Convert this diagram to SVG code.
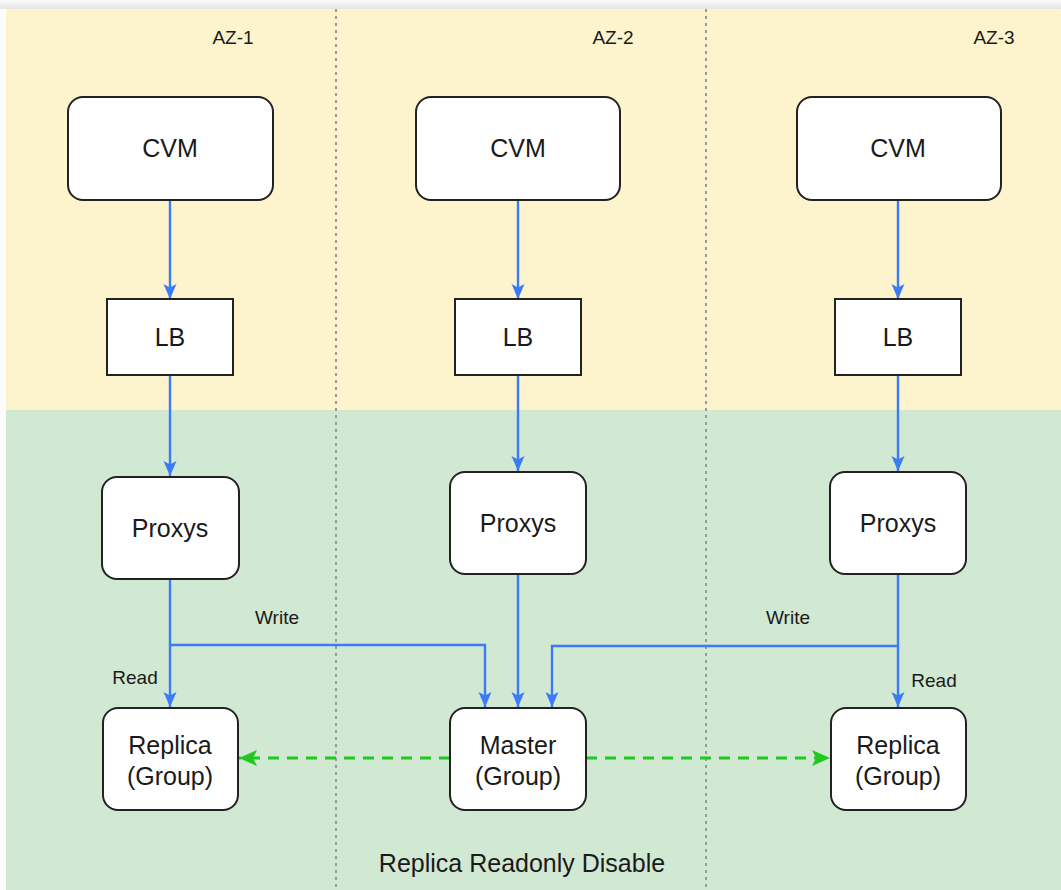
<svg xmlns="http://www.w3.org/2000/svg" width="1061" height="890" viewBox="0 0 1061 890">
<defs>
<linearGradient id="topbar" x1="0" y1="0" x2="0" y2="1">
<stop offset="0" stop-color="#fbfbfb"/>
<stop offset="1" stop-color="#e4e4e4"/>
</linearGradient>
<marker id="blueArrow" markerUnits="userSpaceOnUse" markerWidth="18" markerHeight="18" viewBox="0 0 18 18" refX="16" refY="9" orient="auto">
<path d="M1,2.5 L16,9 L1,15.5 L4.5,9 Z" fill="#3a7bf7"/>
</marker>
<marker id="greenArrow" markerUnits="userSpaceOnUse" markerWidth="22" markerHeight="22" viewBox="0 0 22 22" refX="20" refY="11" orient="auto">
<path d="M2,3 L20,11 L2,19 L6,11 Z" fill="#20c820"/>
</marker>
<style>
.box{fill:#ffffff;stroke:#222222;stroke-width:2}
.lbl{font-family:"Liberation Sans",Arial,sans-serif;font-size:25px;fill:#1a1a1a;text-anchor:middle}
.small{font-family:"Liberation Sans",Arial,sans-serif;font-size:19px;fill:#1a1a1a;text-anchor:middle}
.az{font-family:"Liberation Sans",Arial,sans-serif;font-size:19px;fill:#1a1a1a;text-anchor:middle}
.blue{fill:none;stroke:#3a7bf7;stroke-width:2.4;marker-end:url(#blueArrow)}
.green{fill:none;stroke:#20c820;stroke-width:3;stroke-dasharray:11 8;marker-end:url(#greenArrow)}
.divider{stroke:#9a9a9a;stroke-width:2;stroke-dasharray:3 4}
</style>
</defs>
<g id="background">
<rect x="0" y="0" width="1061" height="890" fill="#fdfdfd"/>
<rect x="0" y="0" width="1061" height="9" fill="url(#topbar)"/>
<rect x="6" y="9" width="1055" height="401" fill="#fdf3cd"/>
<rect x="6" y="410" width="1055" height="480" fill="#d1e8d3"/>
<line class="divider" x1="336" y1="9" x2="336" y2="890"/>
<line class="divider" x1="706" y1="9" x2="706" y2="890"/>
<text class="az" x="233" y="44">AZ-1</text>
<text class="az" x="613" y="44">AZ-2</text>
<text class="az" x="994" y="44">AZ-3</text>
<text class="lbl" x="522" y="872">Replica Readonly Disable</text>
</g>
<g id="connectors">
<path class="blue" d="M170,200 L170,299"/>
<path class="blue" d="M518,200 L518,299"/>
<path class="blue" d="M898,200 L898,299"/>
<path class="blue" d="M170,375 L170,476"/>
<path class="blue" d="M518,375 L518,471"/>
<path class="blue" d="M898,375 L898,471"/>
<path class="blue" d="M170,579 L170,707"/>
<path class="blue" d="M170,645 L485,645 L485,707"/>
<path class="blue" d="M518,574 L518,707"/>
<path class="blue" d="M898,574 L898,707"/>
<path class="blue" d="M898,646 L552,646 L552,707"/>
<path class="green" d="M450,758 L239,758"/>
<path class="green" d="M586,758 L830,758"/>
<text class="small" x="277" y="624">Write</text>
<text class="small" x="135" y="684">Read</text>
<text class="small" x="788" y="624">Write</text>
<text class="small" x="934" y="687">Read</text>
</g>
<g id="cvm-az1"><rect class="box" x="68" y="97" width="205" height="103" rx="15"/><text class="lbl" x="170" y="157">CVM</text></g>
<g id="cvm-az2"><rect class="box" x="416" y="97" width="204" height="103" rx="15"/><text class="lbl" x="518" y="157">CVM</text></g>
<g id="cvm-az3"><rect class="box" x="797" y="97" width="204" height="103" rx="15"/><text class="lbl" x="898" y="157">CVM</text></g>
<g id="lb-az1"><rect class="box" x="107" y="299" width="126" height="76"/><text class="lbl" x="170" y="346">LB</text></g>
<g id="lb-az2"><rect class="box" x="455" y="299" width="126" height="76"/><text class="lbl" x="518" y="346">LB</text></g>
<g id="lb-az3"><rect class="box" x="835" y="299" width="126" height="76"/><text class="lbl" x="898" y="346">LB</text></g>
<g id="proxys-az1"><rect class="box" x="102" y="477" width="137" height="102" rx="15"/><text class="lbl" x="170" y="537">Proxys</text></g>
<g id="proxys-az2"><rect class="box" x="450" y="472" width="136" height="102" rx="15"/><text class="lbl" x="518" y="532">Proxys</text></g>
<g id="proxys-az3"><rect class="box" x="830" y="472" width="136" height="102" rx="15"/><text class="lbl" x="898" y="532">Proxys</text></g>
<g id="replica-az1"><rect class="box" x="103" y="708" width="135" height="102" rx="15"/><text class="lbl" x="170" y="754">Replica</text><text class="lbl" x="170" y="785">(Group)</text></g>
<g id="master-az2"><rect class="box" x="450" y="708" width="136" height="102" rx="15"/><text class="lbl" x="518" y="754">Master</text><text class="lbl" x="518" y="785">(Group)</text></g>
<g id="replica-az3"><rect class="box" x="831" y="708" width="135" height="102" rx="15"/><text class="lbl" x="898" y="754">Replica</text><text class="lbl" x="898" y="785">(Group)</text></g>
</svg>
